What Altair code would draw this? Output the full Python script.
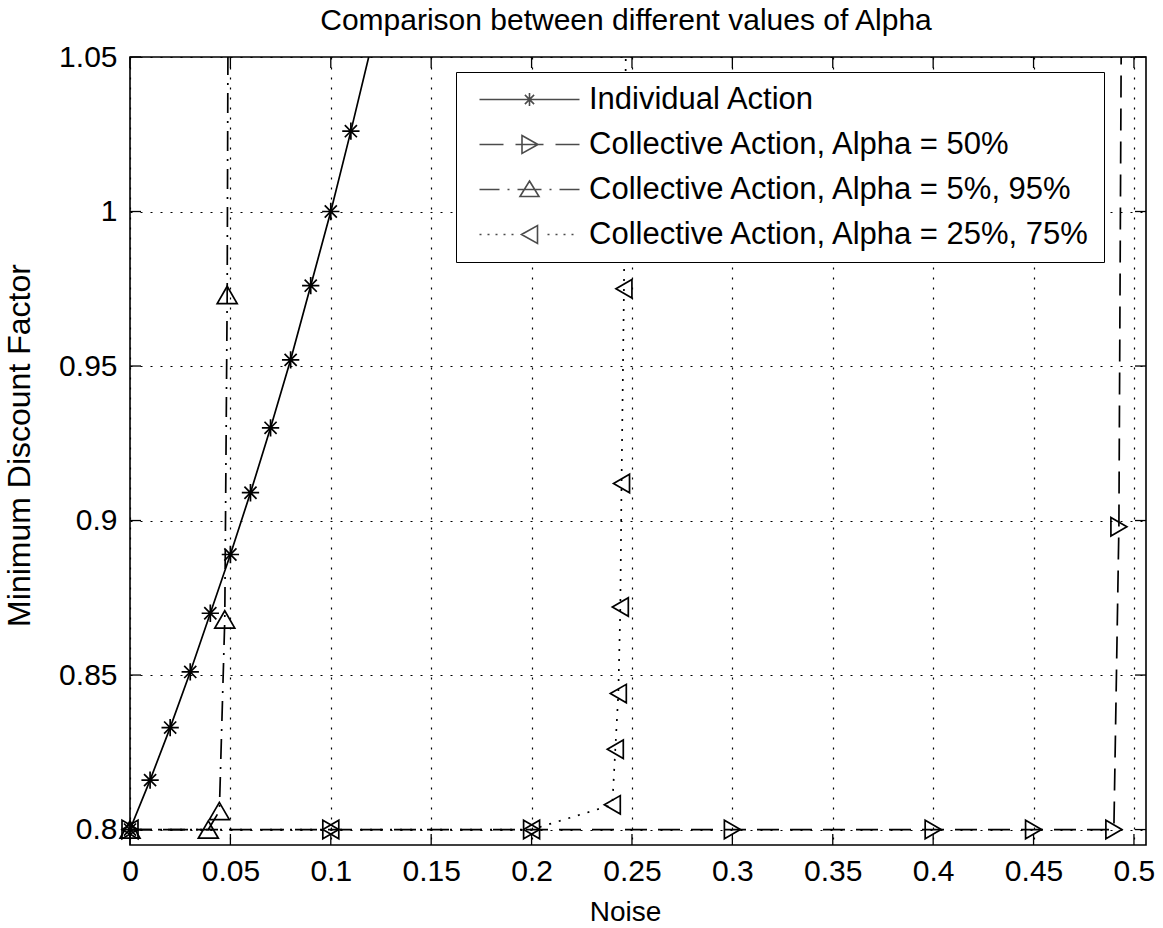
import altair as alt
import pandas as pd

FONT = "Liberation Sans"

# Minimum discount factor against noise for each strategy
individual_noise = [0.0, 0.01, 0.02, 0.03, 0.04, 0.05, 0.06, 0.07, 0.08, 0.09, 0.10, 0.11, 0.12]
individual_delta = [0.800, 0.816, 0.833, 0.851, 0.870, 0.889, 0.909, 0.930, 0.952, 0.976, 1.000, 1.026, 1.053]

alpha50_noise = [0.0, 0.10, 0.20, 0.30, 0.40, 0.45, 0.49, 0.4925, 0.494]
alpha50_delta = [0.800, 0.800, 0.800, 0.800, 0.800, 0.800, 0.800, 0.898, 1.100]

alpha5_noise = [0.0, 0.039, 0.0445, 0.0472, 0.0484, 0.049]
alpha5_delta = [0.800, 0.800, 0.806, 0.868, 0.973, 1.100]

alpha25_noise = [0.0, 0.10, 0.20, 0.2402, 0.2417, 0.2432, 0.2442, 0.2448, 0.2460, 0.2475]
alpha25_delta = [0.800, 0.800, 0.800, 0.808, 0.826, 0.844, 0.872, 0.912, 0.975, 1.100]

series_names = [
    "Individual Action",
    "Collective Action, Alpha = 50%",
    "Collective Action, Alpha = 5%, 95%",
    "Collective Action, Alpha = 25%, 75%",
]
series_noise = [individual_noise, alpha50_noise, alpha5_noise, alpha25_noise]
series_delta = [individual_delta, alpha50_delta, alpha5_delta, alpha25_delta]

x_ticks = [0, 0.05, 0.1, 0.15, 0.2, 0.25, 0.3, 0.35, 0.4, 0.45, 0.5]
y_ticks = [0.8, 0.85, 0.9, 0.95, 1.0, 1.05]

x_domain = [0, 0.506]
y_domain = [0.795, 1.05]

W, H = 1016, 788
TICK = 11

# line dash pattern and marker for each series
ASTERISK = "M-1,0H1M0,-1V1M-0.7,-0.7L0.7,0.7M-0.7,0.7L0.7,-0.7"
styles = {
    series_names[0]: dict(dash=None, shape=ASTERISK, size=300),
    series_names[1]: dict(dash=[22, 11], shape="triangle-right", size=340),
    series_names[2]: dict(dash=[20, 8, 2, 8], shape="triangle-up", size=400),
    series_names[3]: dict(dash=[2, 8], shape="triangle-left", size=340),
}

# legend samples: a short stretch of line with the marker in the middle
dots = "".join(f"M{v:.1f},0H{v + 0.2:.1f}" for v in [-0.4, 0.4, 1.2, 2.0, 2.8, 6.4, 7.2, 8.0, 8.8])
legend_paths = [
    "M-0.4,0H9.6M3.95,0H5.25M4.6,-0.65V0.65M4.14,-0.46L5.06,0.46M4.14,0.46L5.06,-0.46",
    "M-0.4,0H2.0M3.2,0H6.0M7.2,0H9.6M3.85,-0.9L5.45,0L3.85,0.9Z",
    "M-0.4,0H1.6M2.4,0H2.6M3.4,0H5.8M6.6,0H6.8M7.6,0H9.6M4.6,-0.85L5.55,0.7L3.65,0.7Z",
    dots + "M3.8,0L5.4,-0.9L5.4,0.9Z",
]

rows = []
for name, xs, ys in zip(series_names, series_noise, series_delta):
    for i, (xv, yv) in enumerate(zip(xs, ys)):
        rows.append({"series": name, "idx": i, "noise": xv, "delta": yv})
df = pd.DataFrame(rows)

X = alt.X(
    "noise:Q",
    scale=alt.Scale(domain=x_domain, nice=False, zero=False),
    axis=alt.Axis(values=x_ticks, format="~g", title="Noise", labelPadding=11,
                  titlePadding=12, titleFontSize=28, titleX=495),
)
Y = alt.Y(
    "delta:Q",
    scale=alt.Scale(domain=y_domain, nice=False, zero=False),
    axis=alt.Axis(values=y_ticks, format="~g", title="Minimum Discount Factor",
                  labelPadding=13, titlePadding=22, titleFontSize=32, titleY=388),
)

layers = []
for name in series_names:
    st = styles[name]
    sub = df[df["series"] == name]
    line_kw = dict(color="black", strokeWidth=1.7, clip=True)
    if st["dash"]:
        line_kw["strokeDash"] = st["dash"]
    layers.append(
        alt.Chart(sub).mark_line(**line_kw).encode(x=X, y=Y, order="idx:Q")
    )
for name in series_names:
    st = styles[name]
    sub = df[df["series"] == name]
    layers.append(
        alt.Chart(sub)
        .transform_filter("datum.delta <= 1.05")
        .mark_point(shape=st["shape"], size=st["size"], filled=False,
                    color="black", strokeWidth=1.7, opacity=1)
        .encode(x=X, y=Y)
    )

# inward tick marks on all four sides of the box
xt = pd.DataFrame({"noise": x_ticks})
yt = pd.DataFrame({"delta": y_ticks})
tick_kw = dict(color="black", strokeWidth=1.3)
layers += [
    alt.Chart(xt).mark_rule(**tick_kw).encode(x=X, y=alt.value(H), y2=alt.value(H - TICK)),
    alt.Chart(xt).mark_rule(**tick_kw).encode(x=X, y=alt.value(0), y2=alt.value(TICK)),
    alt.Chart(yt).mark_rule(**tick_kw).encode(y=Y, x=alt.value(0), x2=alt.value(TICK)),
    alt.Chart(yt).mark_rule(**tick_kw).encode(y=Y, x=alt.value(W), x2=alt.value(W - TICK)),
]

# legend carrier: the points sit outside the clipped plot area
legend_df = pd.DataFrame({"series": series_names})
layers.append(
    alt.Chart(legend_df)
    .mark_point(filled=False, color="black", size=400, strokeWidth=1.6, clip=True)
    .encode(
        x=alt.value(-300),
        y=alt.value(-300),
        shape=alt.Shape(
            "series:N",
            scale=alt.Scale(domain=series_names, range=legend_paths),
            legend=alt.Legend(
                title=None, orient="none", legendX=326, legendY=15, padding=12,
                strokeColor="black", fillColor="white", labelFont=FONT,
                labelFontSize=31, labelColor="black", labelOffset=90,
                labelLimit=800, symbolSize=400, symbolStrokeWidth=1.6,
                symbolStrokeColor="black", rowPadding=13,
            ),
        ),
    )
)

chart = (
    alt.layer(*layers)
    .properties(
        width=W,
        height=H,
        autosize=alt.AutoSizeParams(type="none"),
        padding={"left": 130, "top": 57, "right": 17, "bottom": 83},
        title=alt.TitleParams(
            "Comparison between different values of Alpha", font=FONT, fontSize=30,
            fontWeight="normal", color="black", anchor="middle", frame="group",
            offset=6, dx=-12,
        ),
    )
    .configure(background="white")
    .configure_view(stroke="black", strokeWidth=1.6)
    .configure_axis(
        labelFont=FONT, labelFontSize=30, labelColor="black", labelFlush=False,
        labelOverlap=False, titleFont=FONT, titleFontWeight="normal", titleColor="black",
        ticks=False, tickSize=0, domain=False, grid=True, gridColor="black",
        gridDash=[2, 8], gridOpacity=1, gridWidth=1.2,
    )
)

chart.save("out.html", embed_options={"renderer": "svg", "actions": False})
